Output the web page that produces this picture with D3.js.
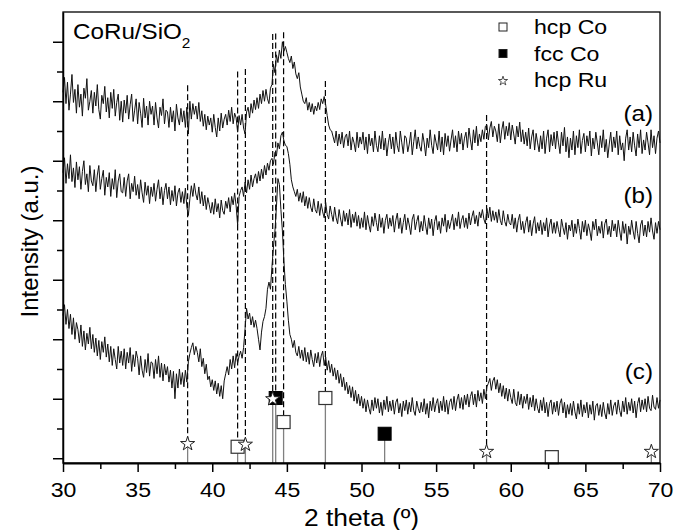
<!DOCTYPE html>
<html>
<head>
<meta charset="utf-8">
<script src="https://cdn.jsdelivr.net/npm/d3@7"></script>
<style>
  body { margin: 0; background: #fff; }
  svg text { font-family: "Liberation Sans", Arial, sans-serif; fill: #000; }
</style>
</head>
<body>
<div class="xrd"></div>
<script>
// scan grid, 30-70 deg in 0.1 deg steps
const twoTheta = d3.range(401).map((i) => +(30 + i * 0.1).toFixed(1));

// (a) top pattern
const seriesA = [
  615, 640, 596, 632, 585, 612, 645, 598, 620, 580,
  628, 590, 612, 575, 622, 605, 638, 585, 600, 618,
  580, 615, 592, 628, 586, 570, 610, 596, 625, 582,
  606, 572, 615, 588, 620, 575, 598, 612, 568, 600,
  565, 602, 580, 610, 570, 594, 612, 566, 585, 604,
  562, 598, 580, 556, 605, 572, 592, 560, 600, 578,
  592, 560, 598, 572, 555, 590, 576, 604, 562, 585,
  582, 556, 590, 565, 584, 550, 595, 572, 560, 588,
  565, 584, 556, 590, 545, 600, 570, 596, 578, 592,
  570, 598, 566, 584, 558, 578, 552, 575, 560, 572,
  548, 578, 556, 540, 572, 550, 580, 555, 570, 578,
  560, 585, 566, 590, 562, 580, 572, 548, 576, 560,
  578, 555, 545, 582, 590, 572, 596, 580, 602, 586,
  606, 588, 612, 596, 618, 600, 620, 604, 596, 622,
  628, 662, 648, 678, 665, 686, 672, 700, 684, 692,
  682, 672, 665, 676, 655, 666, 646, 638, 648, 624,
  612, 600, 596, 606, 585, 598, 582, 596, 578, 592,
  584, 598, 586, 604, 596, 608, 594, 576, 560, 552,
  550, 540, 530, 550, 525, 545, 528, 548, 522, 540,
  545, 525, 550, 518, 540, 530, 515, 548, 522, 540,
  528, 548, 518, 540, 512, 545, 525, 538, 515, 550,
  526, 515, 542, 520, 550, 518, 538, 508, 530, 545,
  520, 540, 512, 548, 525, 515, 550, 530, 512, 542,
  538, 515, 528, 548, 510, 532, 552, 520, 540, 524,
  516, 546, 530, 508, 538, 522, 552, 526, 512, 544,
  530, 518, 550, 515, 540, 510, 546, 524, 542, 516,
  535, 552, 522, 542, 515, 550, 528, 546, 518, 538,
  548, 522, 555, 535, 518, 552, 530, 558, 525, 545,
  532, 552, 536, 558, 560, 535, 555, 566, 540, 558,
  550, 532, 562, 530, 552, 566, 536, 558, 542, 564,
  535, 560, 545, 528, 558, 540, 565, 532, 552, 528,
  548, 525, 555, 520, 540, 552, 518, 546, 530, 515,
  542, 520, 550, 512, 538, 552, 515, 544, 525, 548,
  520, 550, 530, 512, 548, 525, 556, 515, 540, 505,
  538, 518, 550, 510, 542, 522, 552, 512, 534, 546,
  515, 542, 525, 550, 508, 538, 520, 548, 530, 510,
  542, 522, 552, 515, 536, 505, 528, 548, 515, 540,
  522, 550, 510, 542, 518, 530, 500, 538, 552, 518,
  540, 515, 548, 525, 508, 545, 522, 552, 512, 535,
  518, 548, 530, 510, 552, 522, 542, 512, 538, 550,
  530
];

// (b) middle pattern
const seriesB = [
  480, 505, 462, 495, 470, 510, 465, 488, 455, 498,
  468, 490, 452, 482, 500, 460, 478, 448, 492, 466,
  458, 485, 448, 476, 492, 452, 470, 484, 442, 472,
  456, 480, 440, 470, 452, 485, 438, 466, 478, 448,
  446, 472, 440, 466, 478, 436, 462, 448, 474, 442,
  460, 436, 468, 446, 430, 464, 442, 458, 428, 456,
  440, 462, 432, 452, 468, 436, 456, 426, 450, 462,
  436, 456, 426, 450, 432, 458, 424, 446, 454, 430,
  448, 428, 454, 422, 408, 436, 458, 440, 462, 444,
  434, 456, 428, 448, 424, 442, 418, 438, 426, 412,
  430, 410, 436, 414, 428, 404, 434, 416, 410, 432,
  420, 438, 414, 440, 426, 446, 424, 392, 440, 450,
  456, 440, 464, 446, 468, 452, 476, 456, 470, 478,
  462, 482, 466, 486, 470, 492, 476, 496, 484, 500,
  504, 494, 514, 508, 530, 520, 542, 548, 534, 526,
  524, 512, 494, 468, 456, 448, 440, 452, 432, 446,
  430, 448, 424, 440, 420, 438, 422, 414, 436, 418,
  412, 432, 408, 428, 414, 404, 430, 410, 402, 424,
  410, 398, 422, 404, 394, 418, 402, 390, 416, 398,
  412, 392, 418, 388, 410, 396, 414, 390, 408, 386,
  404, 388, 414, 384, 408, 392, 380, 406, 390, 412,
  396, 382, 410, 388, 404, 378, 400, 410, 386, 404,
  390, 408, 380, 400, 412, 386, 404, 378, 396, 410,
  384, 404, 392, 376, 402, 410, 384, 398, 408, 380,
  398, 382, 408, 390, 376, 404, 386, 402, 374, 398,
  408, 384, 398, 378, 404, 390, 410, 380, 400, 386,
  398, 410, 384, 404, 390, 414, 386, 400, 408, 388,
  404, 386, 412, 392, 406, 416, 394, 408, 390, 414,
  404, 418, 402, 394, 420, 404, 422, 398, 416, 400,
  414, 396, 418, 400, 392, 416, 398, 390, 410, 396,
  392, 410, 386, 404, 380, 400, 410, 384, 398, 378,
  396, 406, 380, 400, 374, 394, 406, 378, 396, 382,
  400, 376, 396, 382, 404, 372, 392, 402, 378, 396,
  378, 398, 384, 372, 402, 388, 376, 396, 368, 392,
  382, 400, 372, 394, 378, 402, 386, 368, 398, 380,
  400, 374, 394, 382, 366, 398, 384, 402, 374, 390,
  378, 398, 370, 394, 402, 376, 390, 372, 400, 382,
  394, 372, 400, 382, 366, 398, 378, 394, 360, 390,
  376, 400, 382, 368, 398, 378, 362, 392, 400, 374,
  392, 372, 398, 380, 404, 382, 368, 396, 378, 398,
  384
];

// (c) bottom pattern
const seriesC = [
  240, 258, 225, 250, 218, 242, 208, 236, 200, 228,
  216, 194, 224, 188, 214, 182, 210, 192, 220, 184,
  208, 178, 202, 172, 198, 166, 196, 178, 204, 170,
  192, 162, 188, 156, 184, 166, 150, 188, 160, 180,
  156, 184, 150, 178, 160, 186, 146, 174, 154, 180,
  168, 140, 172, 148, 136, 166, 144, 176, 138, 162,
  160, 134, 166, 142, 172, 136, 160, 130, 158, 140,
  154, 128, 148, 118, 146, 100, 142, 118, 150, 124,
  144, 120, 148, 128, 162, 176, 186, 194, 174, 188,
  178, 162, 184, 154, 168, 142, 158, 132, 138, 120,
  132, 114, 130, 108, 126, 104, 122, 100, 130, 142,
  154, 140, 166, 150, 172, 152, 176, 160, 172, 180,
  168, 186, 218, 252, 234, 244, 224, 238, 220, 232,
  218, 200, 182, 212, 230, 238, 252, 284, 296, 284,
  322, 355, 382, 422, 470, 460, 418, 382, 332, 292,
  264, 232, 208, 200, 186, 198, 178, 172, 188, 168,
  182, 164, 186, 162, 178, 158, 182, 166, 154, 176,
  160, 178, 154, 172, 180, 156, 170, 148, 164, 144,
  158, 138, 152, 132, 148, 126, 142, 120, 136, 114,
  128, 108, 122, 102, 120, 96, 114, 92, 108, 88,
  104, 84, 100, 78, 98, 84, 74, 98, 80, 102,
  84, 100, 76, 94, 72, 98, 82, 104, 78, 96,
  80, 98, 74, 94, 100, 76, 92, 70, 96, 80,
  98, 74, 94, 78, 102, 80, 72, 96, 84, 76,
  94, 78, 100, 74, 92, 68, 96, 80, 102, 78,
  92, 100, 76, 96, 80, 104, 78, 98, 74, 94,
  100, 82, 104, 80, 98, 108, 84, 102, 82, 106,
  90, 108, 86, 104, 112, 90, 108, 86, 114, 96,
  110, 92, 116, 100, 120, 126, 134, 114, 130, 136,
  116, 132, 110, 126, 104, 122, 100, 118, 96, 116,
  102, 92, 116, 94, 88, 112, 90, 108, 84, 104,
  92, 108, 82, 102, 86, 106, 80, 100, 84, 76,
  98, 80, 102, 76, 94, 70, 92, 98, 74, 94,
  78, 96, 72, 92, 100, 76, 94, 68, 90, 74,
  92, 72, 96, 78, 66, 92, 74, 98, 70, 90,
  76, 94, 68, 90, 74, 96, 64, 88, 92, 72,
  90, 70, 94, 76, 66, 92, 74, 98, 72, 88,
  94, 74, 98, 80, 70, 96, 78, 102, 74, 94,
  80, 100, 76, 96, 68, 92, 102, 78, 98, 82,
  100, 78, 104, 84, 80, 106, 86, 82, 102, 84,
  98
];

const seriesLabels = ["(a)", "(b)", "(c)"];

// reference reflections (relative intensity, %)
const hcpCoPos = [41.7, 44.78, 47.58, 62.75];
const hcpCoInt = [25, 63, 100, 9];
const fccCoPos = [44.25, 51.55];
const fccCoInt = [100, 45];
const hcpRuPos = [38.35, 42.22, 44.05, 58.38, 69.42];
const hcpRuInt = [31, 30, 100, 19, 19];

// dashed guides: position, top (a.u.), reflection they drop to (%)
const dashPos = [38.35, 41.7, 42.22, 44.05, 44.25, 44.78, 47.58, 58.38];
const dashTop = [627, 650, 654, 713, 714, 716, 634, 577];
const dashBase = [31, 25, 30, 100, 100, 63, 100, 19];

const legendNames = ["hcp Co", "fcc Co", "hcp Ru"];

const xMajor = [30, 35, 40, 45, 50, 55, 60, 65, 70];
const xMinor = [32.5, 37.5, 42.5, 47.5, 52.5, 57.5, 62.5, 67.5];
const yMajor = [0, 100, 200, 300, 400, 500, 600, 700];
const yMinor = [50, 150, 250, 350, 450, 550, 650];

const width = 675;
const height = 530;
const mLeft = 63, mRight = 660, mTop = 12, mBottom = 463;
const stretch = "scale(1.1,1)";

const x = d3.scaleLinear().domain([30, 70]).range([mLeft, mRight]);
const y = d3.scaleLinear().domain([-8, 750]).range([mBottom, mTop]);
const yRef = d3.scaleLinear().domain([0, 100]).range([mBottom, 398]);

const svg = d3.select(".xrd").append("svg")
  .attr("width", width)
  .attr("height", height);

svg.append("rect")
  .attr("width", width).attr("height", height)
  .attr("fill", "#fff");

// dashed guides
svg.append("g")
  .selectAll("line")
  .data(dashPos).enter()
  .append("line")
    .attr("x1", (d) => x(d))
    .attr("x2", (d) => x(d))
    .attr("y1", (d, i) => y(dashTop[i]))
    .attr("y2", (d, i) => yRef(dashBase[i]))
    .attr("stroke", "#000")
    .attr("stroke-width", 1.2)
    .attr("stroke-dasharray", "6,3");

// patterns
const line = d3.line()
  .x((d, i) => x(twoTheta[i]))
  .y((d) => y(d));

svg.append("g")
  .selectAll("path")
  .data([seriesA, seriesB, seriesC]).enter()
  .append("path")
    .attr("d", line)
    .attr("fill", "none")
    .attr("stroke", "#111")
    .attr("stroke-width", 1);

// reference sticks
const sticks = []
  .concat(hcpCoPos.map((p, i) => ({ pos: p, val: hcpCoInt[i] })))
  .concat(fccCoPos.map((p, i) => ({ pos: p, val: fccCoInt[i] })))
  .concat(hcpRuPos.map((p, i) => ({ pos: p, val: hcpRuInt[i] })));

svg.append("g")
  .selectAll("line")
  .data(sticks).enter()
  .append("line")
    .attr("x1", (d) => x(d.pos))
    .attr("x2", (d) => x(d.pos))
    .attr("y1", mBottom)
    .attr("y2", (d) => yRef(d.val))
    .attr("stroke", "#808080")
    .attr("stroke-width", 1.3);

const sq = 13;
svg.append("g")
  .selectAll("rect")
  .data(hcpCoPos).enter()
  .append("rect")
    .attr("x", (d) => x(d) - sq / 2)
    .attr("y", (d, i) => yRef(hcpCoInt[i]) - sq / 2)
    .attr("width", sq).attr("height", sq)
    .attr("fill", "#fff")
    .attr("stroke", "#333")
    .attr("stroke-width", 1.2);

svg.append("g")
  .selectAll("rect")
  .data(fccCoPos).enter()
  .append("rect")
    .attr("x", (d) => x(d) - sq / 2)
    .attr("y", (d, i) => yRef(fccCoInt[i]) - sq / 2)
    .attr("width", sq).attr("height", sq)
    .attr("fill", "#000")
    .attr("stroke", "#000")
    .attr("stroke-width", 1);

const star = d3.symbol().type(d3.symbolStar).size(62);
svg.append("g")
  .selectAll("path")
  .data(hcpRuPos).enter()
  .append("path")
    .attr("d", star)
    .attr("transform", (d, i) => `translate(${x(d)},${yRef(hcpRuInt[i]) + 1})`)
    .attr("fill", "#fff")
    .attr("stroke", "#222")
    .attr("stroke-width", 1);

// frame
svg.append("rect")
  .attr("x", mLeft).attr("y", mTop)
  .attr("width", mRight - mLeft).attr("height", mBottom - mTop)
  .attr("fill", "none")
  .attr("stroke", "#000")
  .attr("stroke-width", 1.3);

// axes
const gx = svg.append("g")
  .attr("transform", `translate(0,${mBottom})`)
  .call(d3.axisBottom(x).tickValues(xMajor).tickSize(9).tickSizeOuter(0).tickPadding(10));
gx.select(".domain").attr("stroke-width", 2);
gx.selectAll(".tick line").attr("stroke-width", 1.5);
gx.selectAll("text").attr("font-size", 21).attr("transform", stretch);

svg.append("g")
  .attr("transform", `translate(0,${mBottom})`)
  .call(d3.axisBottom(x).tickValues(xMinor).tickSize(6).tickFormat(""))
  .call((g) => g.select(".domain").remove())
  .selectAll(".tick line").attr("stroke-width", 1.5);

const gy = svg.append("g")
  .attr("transform", `translate(${mLeft},0)`)
  .call(d3.axisLeft(y).tickValues(yMajor).tickSize(10).tickSizeOuter(0).tickFormat(""));
gy.select(".domain").attr("stroke-width", 1.5);
gy.selectAll(".tick line").attr("stroke-width", 1.5);

svg.append("g")
  .attr("transform", `translate(${mLeft},0)`)
  .call(d3.axisLeft(y).tickValues(yMinor).tickSize(6).tickFormat(""))
  .call((g) => g.select(".domain").remove())
  .selectAll(".tick line").attr("stroke-width", 1.5);

// titles
svg.append("g")
  .attr("transform", `translate(${(mLeft + mRight) / 2},526)`)
  .append("text")
    .attr("text-anchor", "middle")
    .attr("font-size", 24)
    .attr("transform", stretch)
    .text("2 theta (º)");

svg.append("text")
  .attr("transform", `translate(38,${(mTop + mBottom) / 2 + 4}) rotate(-90)`)
  .attr("text-anchor", "middle")
  .attr("font-size", 24)
  .text("Intensity (a.u.)");

const name = svg.append("g")
  .attr("transform", "translate(73,38.5)")
  .append("text")
    .attr("font-size", 22)
    .attr("transform", stretch);
name.append("tspan").text("CoRu/SiO");
name.append("tspan").attr("font-size", 14).attr("dy", 9).text("2");

// pattern labels
const labelY = [121, 203, 379];
svg.append("g")
  .selectAll("g")
  .data(seriesLabels).enter()
  .append("g")
    .attr("transform", (d, i) => `translate(653,${labelY[i]})`)
  .append("text")
    .attr("text-anchor", "end")
    .attr("font-size", 22)
    .attr("transform", stretch)
    .text((d) => d);

// legend
const legendY = d3.scalePoint().domain(legendNames).range([27, 80]);
const marks = svg.append("g")
  .selectAll("g")
  .data(legendNames).enter()
  .append("g")
    .attr("transform", (d) => `translate(503,${legendY(d)})`);

marks.filter((d, i) => i < 2)
  .append("rect")
    .attr("x", -4).attr("y", -4)
    .attr("width", 8).attr("height", 8)
    .attr("fill", (d) => d === "fcc Co" ? "#000" : "#fff")
    .attr("stroke", "#222")
    .attr("stroke-width", 1);

marks.filter((d, i) => i === 2)
  .append("path")
    .attr("d", d3.symbol().type(d3.symbolStar).size(26))
    .attr("transform", "translate(0,1)")
    .attr("fill", "#fff")
    .attr("stroke", "#222")
    .attr("stroke-width", 0.8);

marks.append("g")
    .attr("transform", "translate(31,7)")
  .append("text")
    .attr("font-size", 21)
    .attr("transform", stretch)
    .text((d) => d);
</script>
</body>
</html>
